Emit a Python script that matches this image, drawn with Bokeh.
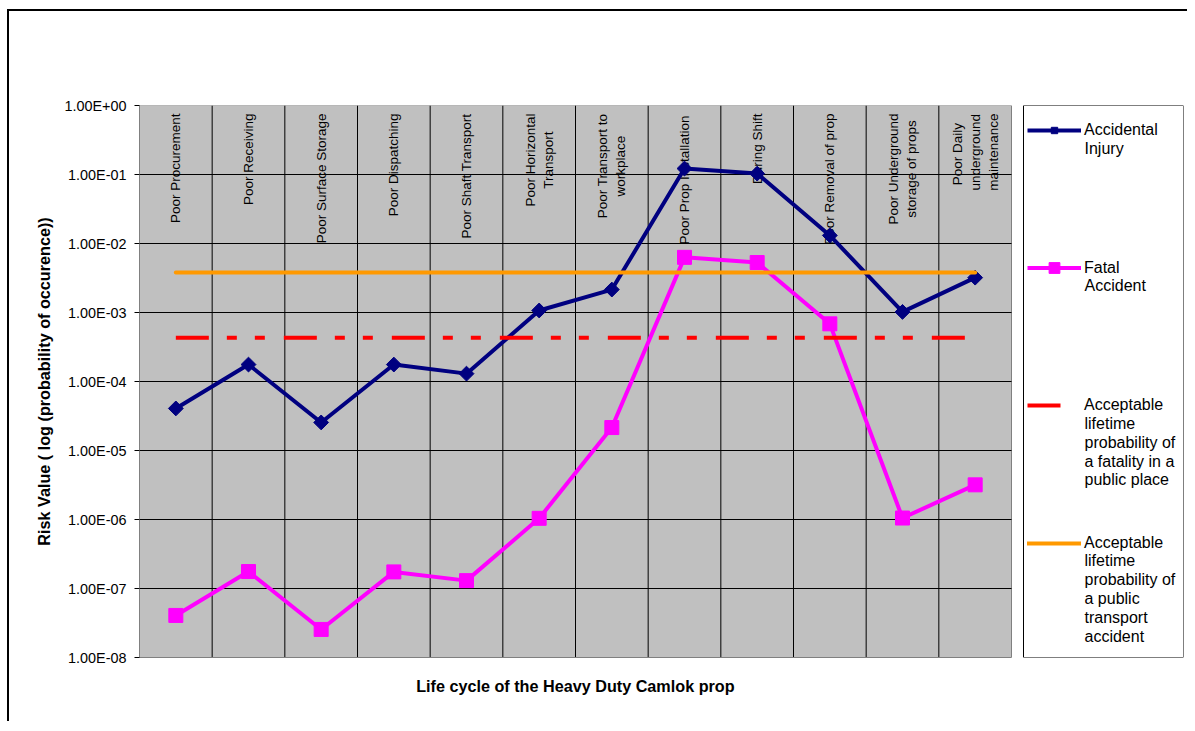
import math
from bokeh.plotting import figure
from bokeh.models import (Range1d, FixedTicker, CustomJSTickFormatter, Legend,
                          LegendItem, ColumnDataSource, BoxAnnotation, Label, Title)
from bokeh.core.properties import value
from bokeh.embed import file_html
from bokeh.resources import INLINE

# ---------------- data ----------------
categories = [
    "Poor Procurement", "Poor Receiving", "Poor Surface Storage",
    "Poor Dispatching", "Poor Shaft Transport", "Poor Horizontal\nTransport",
    "Poor Transport to\nworkplace", "Poor Prop Installation", "During Shift",
    "Poor Removal of prop", "Poor Underground\nstorage of props",
    "Poor  Daily\nunderground\nmaintenance",
]
accidental_injury = [4.07e-5, 1.76e-4, 2.55e-5, 1.76e-4, 1.30e-4, 1.07e-3,
                     2.15e-3, 1.22e-1, 1.03e-1, 1.31e-2, 1.02e-3, 3.2e-3]
fatal_accident = [4.07e-8, 1.76e-7, 2.55e-8, 1.74e-7, 1.30e-7, 1.04e-6,
                  2.15e-5, 6.3e-3, 5.3e-3, 6.85e-4, 1.05e-6, 3.18e-6]
public_place_fatality = 4.3e-4
public_transport_accident = 3.8e-3
y_ticks = [1e-8, 1e-7, 1e-6, 1e-5, 1e-4, 1e-3, 1e-2, 1e-1, 1e0]
series_names = ["Accidental\nInjury", "Fatal\nAccident",
                "Acceptable\nlifetime\nprobability of\na  fatality in a\npublic place",
                "Acceptable\nlifetime\nprobability of\na public\ntransport\naccident"]
x_title = "Life cycle of the Heavy Duty Camlok prop"
y_title = "Risk Value ( log (probability of occurence))"

# ---------------- layout / style constants ----------------
FONT = "Liberation Sans"
ARIAL = {" ": 278, "P": 667, "o": 556, "r": 333, "c": 500, "u": 556, "e": 556,
         "m": 833, "n": 556, "t": 278, "R": 722, "i": 222, "v": 500, "g": 556,
         "S": 667, "f": 278, "a": 556, "D": 722, "s": 500, "p": 556, "h": 556,
         "H": 722, "z": 500, "l": 222, "T": 611, "w": 722, "k": 500, "U": 722,
         "y": 500, "d": 556, "b": 556}
ARIAL_BOLD = {" ": 278, "L": 611, "i": 278, "f": 333, "e": 556, "c": 556,
              "y": 556, "l": 278, "o": 611, "t": 333, "h": 611, "H": 722,
              "a": 556, "v": 556, "D": 722, "u": 611, "C": 722, "m": 889,
              "k": 556, "p": 611, "r": 389}
CAT_SIZE = 13.5
TITLE_SIZE = 16.2
PLOT_W = 872          # px width of the category area
EXTRA_W = 172         # px right of the category area (legend column)
LEGEND_GAP = 12       # px between plot area and legend box
FRAME_LEFT, FRAME_BOTTOM = 139, 657
LEG_LINE_H = 18.4     # px between legend text lines
LEG_FIRST_LINE = [130.2, 267.7, 405.2, 542.7]   # page y of first text line
LEG_GLYPH_LEFT = 1027
LEG_TEXT_LEFT = 1084


def text_width(s, size, table=ARIAL):
    return sum(table.get(c, 556) for c in s) / 1000.0 * size


cat_offsets = [8 + max(text_width(line, CAT_SIZE) for line in c.split("\n")) / 2
               for c in categories]

n = len(categories)
x = list(range(1, n + 1))
cat_px = PLOT_W / n
x_end = n + 0.5 + EXTRA_W / cat_px

p = figure(width=1180, height=712,
           x_range=Range1d(0.5, x_end),
           y_range=Range1d(y_ticks[0], y_ticks[-1]),
           y_axis_type="log", output_backend="svg", toolbar_location=None,
           min_border_left=130, min_border_right=6,
           min_border_top=94, min_border_bottom=66)
p.styles = {"margin-left": "7px", "margin-top": "9px",
            "border-top": "2px solid black", "border-left": "2px solid black"}
p.background_fill_color = "white"
p.border_fill_color = "white"
p.outline_line_color = None
p.xgrid.visible = False
p.ygrid.visible = False

# plot area (grey)
p.add_layout(BoxAnnotation(left=0.5, right=n + 0.5, bottom=y_ticks[0], top=y_ticks[-1],
                           fill_color="#C0C0C0", fill_alpha=1,
                           line_color="#808080", line_width=1, line_alpha=1,
                           level="underlay"))

# y axis
p.yaxis.ticker = FixedTicker(ticks=y_ticks, minor_ticks=[])
p.yaxis.formatter = CustomJSTickFormatter(code="""
const e = Math.round(Math.log10(tick));
const m = tick / Math.pow(10, e);
const a = Math.abs(e);
return m.toFixed(2) + "E" + (e < 0 ? "-" : "+") + (a < 10 ? "0" : "") + a;
""")
p.yaxis.major_label_text_font = FONT
p.yaxis.major_label_text_font_size = "14.4px"
p.yaxis.major_label_text_color = "black"
p.yaxis.major_tick_out = 5
p.yaxis.major_tick_in = 0
p.yaxis.major_tick_line_color = "black"
p.yaxis.minor_tick_line_color = None
p.yaxis.axis_line_color = "#808080"
p.yaxis.major_label_standoff = 8
p.yaxis.axis_label = y_title
p.yaxis.axis_label_text_font = FONT
p.yaxis.axis_label_text_font_style = "bold"
p.yaxis.axis_label_text_font_size = f"{TITLE_SIZE}px"
p.yaxis.axis_label_text_color = "black"
p.yaxis.axis_label_standoff = 8

# x axis (line only; title centred under the category area)
p.xaxis.bounds = (0.5, n + 0.5)
p.xaxis.ticker = FixedTicker(ticks=[i + 0.5 for i in range(n + 1)])
p.xaxis.formatter = CustomJSTickFormatter(code="return ''")
p.xaxis.major_label_text_font_size = "0px"
p.xaxis.major_tick_line_color = None
p.xaxis.minor_tick_line_color = None
p.xaxis.major_label_standoff = 0
p.xaxis.axis_line_color = "#808080"

title_w = text_width(x_title, TITLE_SIZE, ARIAL_BOLD)
xt = Title(text=x_title, align="left", offset=PLOT_W / 2 - title_w / 2,
           vertical_align="top", standoff=26,
           text_font=FONT, text_font_size=f"{TITLE_SIZE}px",
           text_font_style="bold", text_color="black")
p.add_layout(xt, "below")

# grid lines (only inside the plot area)
vx_lines = [i + 0.5 for i in range(1, n)]
p.segment(x0=vx_lines, x1=vx_lines, y0=[y_ticks[0]] * len(vx_lines),
          y1=[y_ticks[-1]] * len(vx_lines), line_color="black", line_width=1)
hy_lines = y_ticks[1:-1]
p.segment(x0=[0.5] * len(hy_lines), x1=[n + 0.5] * len(hy_lines), y0=hy_lines,
          y1=hy_lines, line_color="black", line_width=1)

# category labels inside plot top
cat_src = ColumnDataSource(dict(x=x, y=[y_ticks[-1]] * n, text=categories,
                                yoff=cat_offsets))
p.text(x="x", y="y", text="text", source=cat_src, angle=math.pi / 2,
       text_align="center", text_baseline="middle", y_offset="yoff",
       text_font=value(FONT), text_font_size=f"{CAT_SIZE}px", text_color="black",
       text_line_height=1.2)

src = ColumnDataSource(dict(x=x, injury=accidental_injury, fatal=fatal_accident))
l1 = p.line("x", "injury", source=src, line_color="#000080", line_width=4,
            line_join="round")
m1 = p.scatter("x", "injury", source=src, marker="square", angle=math.pi / 4,
               size=10.5, fill_color="#000080", line_color="#000080")
l2 = p.line("x", "fatal", source=src, line_color="#FF00FF", line_width=4,
            line_join="round")
m2 = p.scatter("x", "fatal", source=src, marker="square", size=14,
               fill_color="#FF00FF", line_color="#FF00FF")
l3 = p.line([x[0], x[-1]], [public_place_fatality] * 2, line_color="#FF0000",
            line_width=4, line_dash="33 18 10 18 10 19")
l4 = p.line([x[0], x[-1]], [public_transport_accident] * 2, line_color="#FF9900",
            line_width=4, line_cap="round")
# legend swatch of the dashed series (shows the first long dash only)
l3_key = p.line(x=[x[0]], y=[public_place_fatality], line_color="#FF0000",
                line_width=4, line_dash="33 40")

# legend box
p.add_layout(BoxAnnotation(left=n + 0.5 + LEGEND_GAP / cat_px, right=x_end,
                           bottom=y_ticks[0], top=y_ticks[-1],
                           fill_color="white", fill_alpha=1,
                           line_color="black", line_width=1, line_alpha=1))

legend_renderers = [[l1, m1], [l2, m2], [l3_key], [l4]]
legend_glyph_h = [16, 27, 16, 16]
for name, rends, c, gh in zip(series_names, legend_renderers, LEG_FIRST_LINE,
                              legend_glyph_h):
    first, rest = name.split("\n", 1)
    item_h = max(gh, LEG_LINE_H)
    leg = Legend(items=[LegendItem(label=first, renderers=rends)],
                 location=(LEG_GLYPH_LEFT - FRAME_LEFT,
                           FRAME_BOTTOM - (c + item_h / 2)))
    leg.glyph_width = 54
    leg.glyph_height = gh
    leg.label_standoff = 3
    leg.padding = 0
    leg.spacing = 0
    leg.margin = 0
    leg.border_line_color = None
    leg.background_fill_alpha = 0
    leg.label_text_font = FONT
    leg.label_text_font_size = "16px"
    leg.label_text_color = "black"
    leg.label_text_line_height = 1.25
    p.add_layout(leg)
    p.add_layout(Label(x=LEG_TEXT_LEFT - FRAME_LEFT,
                       y=FRAME_BOTTOM - (c + LEG_LINE_H / 2),
                       x_units="screen", y_units="screen", text=rest,
                       text_align="left", text_baseline="top",
                       text_font=FONT, text_font_size="16px",
                       text_color="black", text_line_height=1.108))

open("out.html", "w").write(file_html(p, INLINE))
